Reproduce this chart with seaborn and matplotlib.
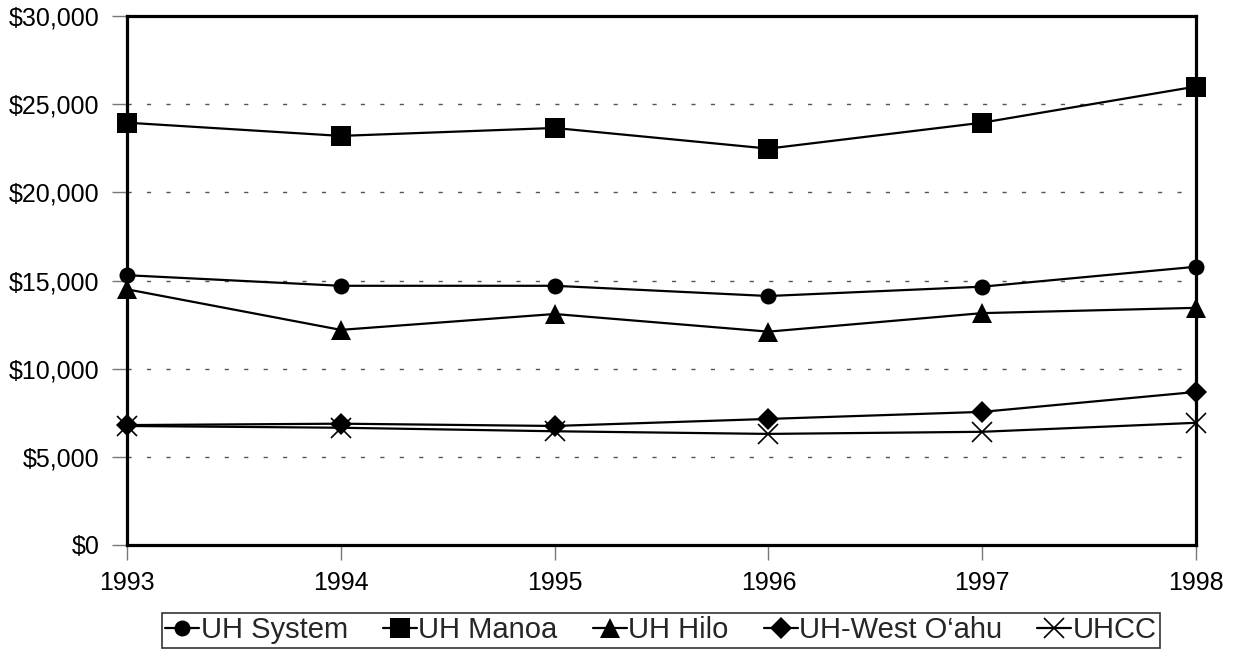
import matplotlib
matplotlib.use("Agg")
import matplotlib.pyplot as plt
import seaborn as sns
import numpy as np
from matplotlib.ticker import FuncFormatter

years = [1993, 1994, 1995, 1996, 1997, 1998]
uh_system = [15300, 14700, 14700, 14120, 14650, 15780]
uh_manoa = [23950, 23200, 23650, 22480, 23950, 26000]
uh_hilo = [14500, 12200, 13100, 12100, 13150, 13450]
uh_west_oahu = [6800, 6880, 6750, 7150, 7550, 8680]
uhcc = [6750, 6650, 6450, 6300, 6420, 6930]

series_names = ["UH System", "UH Manoa", "UH Hilo", "UH-West O\u2018ahu", "UHCC"]
series_values = [uh_system, uh_manoa, uh_hilo, uh_west_oahu, uhcc]
y_ticks = [0, 5000, 10000, 15000, 20000, 25000, 30000]

sns.set_theme(style="white")
plt.rcParams['font.family'] = ['Liberation Sans', 'DejaVu Sans']

fig = plt.figure(figsize=(12.34, 6.52), dpi=100)
ax = fig.add_axes([127/1234, 1-545/652, (1196-127)/1234, (545-16)/652])

styles = [
    dict(marker='o', markersize=11.5, markeredgewidth=0),
    dict(marker='s', markersize=14, markeredgewidth=0),
    dict(marker='^', markersize=14, markeredgewidth=0),
    dict(marker='D', markersize=11, markeredgewidth=0),
    dict(marker='x', markersize=15, markeredgewidth=1.2),
]

for name, vals, st in zip(series_names, series_values, styles):
    sns.lineplot(x=years, y=vals, ax=ax, color='black', linewidth=1.6,
                 label=name, markerfacecolor='black', markeredgecolor='black',
                 clip_on=False, zorder=3, **st)

ax.set_xlim(1993, 1998)
ax.set_ylim(0, 30000)
ax.set_yticks(y_ticks)
ax.set_xticks(years)
ax.yaxis.set_major_formatter(FuncFormatter(lambda v, p: f"${int(v):,}"))
ax.set_xlabel("")
ax.set_ylabel("")

for y in y_ticks[1:-1]:
    ax.axhline(y, color='#555555', linewidth=1.0, linestyle=(0, (3, 11)), zorder=1)

for sp in ax.spines.values():
    sp.set_visible(True)
    sp.set_color('black')
    sp.set_linewidth(2.3)

ax.tick_params(axis='both', which='major', direction='out', length=11, width=1,
               color='#777777', labelsize=18, labelcolor='black', left=True, bottom=True)
ax.tick_params(axis='y', pad=9)
ax.tick_params(axis='x', pad=8)

leg = ax.legend(loc='center', bbox_to_anchor=(661/1234, 1-630.5/652),
                bbox_transform=fig.transFigure, ncol=5, frameon=True, fancybox=False,
                fontsize=21, handlelength=1.17, handletextpad=0.05, columnspacing=1.2,
                borderpad=0.12, borderaxespad=0, markerscale=1.0)
leg.get_frame().set_edgecolor('black')
leg.get_frame().set_linewidth(1.2)

fig.savefig("out.png", dpi=100)
